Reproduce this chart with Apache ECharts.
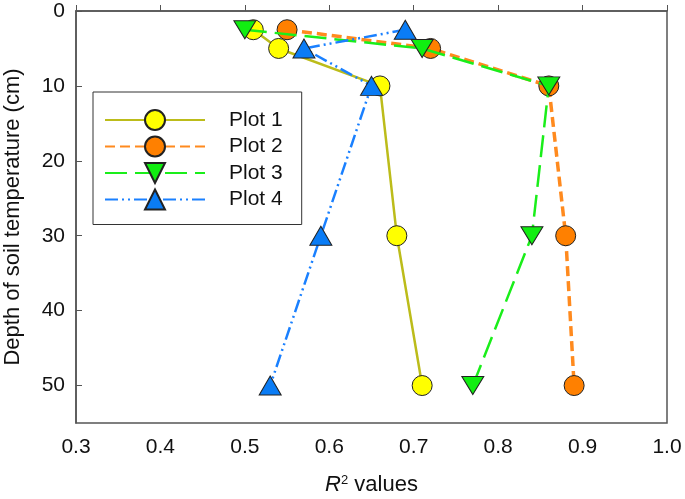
<!DOCTYPE html>
<html>
<head>
<meta charset="utf-8">
<script src="https://cdn.jsdelivr.net/npm/echarts@6/dist/echarts.min.js"></script>
<style>
html,body{margin:0;padding:0;background:#fff;}
#chart{width:685px;height:499px;}
</style>
</head>
<body>
<div id="chart"></div>
<script>
var depths = [2.5, 5, 10, 30, 50];
var plot1 = [0.51, 0.54, 0.66, 0.68, 0.71];
var plot2 = [0.55, 0.72, 0.86, 0.88, 0.89];
var plot3 = [0.50, 0.71, 0.86, 0.84, 0.77];
var plot4 = [0.69, 0.57, 0.65, 0.59, 0.53];
var seriesNames = ['Plot 1', 'Plot 2', 'Plot 3', 'Plot 4'];
var xTicks = [0.3, 0.4, 0.5, 0.6, 0.7, 0.8, 0.9, 1.0];
var yTicks = [0, 10, 20, 30, 40, 50];

function pairs(vals) {
  return vals.map(function (v, i) { return [v, depths[i]]; });
}

var FONT = '"Liberation Sans", Arial, sans-serif';
var chart = echarts.init(document.getElementById('chart'));
var axisColor = '#555';

chart.setOption({
  animation: false,
  backgroundColor: '#fff',
  textStyle: { fontFamily: FONT },
  grid: {
    left: 76, right: 18, top: 11, bottom: 76,
    containLabel: false, outerBoundsMode: 'none',
    show: true, borderColor: axisColor, borderWidth: 1.5, backgroundColor: 'transparent'
  },
  legend: {
    orient: 'vertical',
    left: 93, top: 92,
    padding: [17, 19, 14, 11],
    itemWidth: 100, itemHeight: 25, itemGap: 4.5,
    backgroundColor: '#fff',
    borderColor: '#333', borderWidth: 1, borderRadius: 0,
    textStyle: { fontFamily: FONT, fontSize: 21, color: '#111', padding: [0, 0, 0, 19] },
    data: seriesNames
  },
  xAxis: {
    type: 'value', min: 0.3, max: 1.0, interval: 0.1,
    name: '{i|R}{s|2} values',
    nameLocation: 'middle', nameGap: 51,
    nameTextStyle: {
      fontFamily: FONT, fontSize: 22, color: '#111',
      rich: {
        i: { fontStyle: 'italic', fontSize: 22, fontFamily: FONT, color: '#111' },
        s: { fontSize: 13, verticalAlign: 'top', fontFamily: FONT, color: '#111', padding: [0, 0, 9, 0] }
      }
    },
    axisLine: { show: true, lineStyle: { color: axisColor, width: 1.5 } },
    axisTick: { show: true, inside: true, length: 6, lineStyle: { color: axisColor, width: 1 } },
    splitLine: { show: false },
    axisLabel: {
      fontFamily: FONT, fontSize: 21, color: '#111', margin: 14,
      formatter: function (v) {
        for (var k = 0; k < xTicks.length; k++) {
          if (Math.abs(v - xTicks[k]) < 1e-6) return xTicks[k].toFixed(1);
        }
        return '';
      }
    }
  },
  yAxis: {
    type: 'value', min: 0, max: 55, interval: 10, inverse: true,
    name: 'Depth of soil temperature (cm)',
    nameLocation: 'middle', nameGap: 52, nameRotate: 90,
    nameTextStyle: { fontFamily: FONT, fontSize: 22, color: '#111' },
    axisLine: { show: true, lineStyle: { color: axisColor, width: 1.5 } },
    axisTick: { show: true, inside: true, length: 6, lineStyle: { color: axisColor, width: 1 } },
    splitLine: { show: false },
    axisLabel: {
      fontFamily: FONT, fontSize: 21, color: '#111', margin: 11,
      showMaxLabel: false,
      formatter: function (v) { return yTicks.indexOf(v) >= 0 ? String(v) : ''; }
    }
  },
  series: [
    {
      name: seriesNames[0], type: 'line', data: pairs(plot1),
      symbol: 'circle', symbolSize: 20, z: 5,
      lineStyle: { color: '#bcbc1a', width: 2.5, type: 'solid' },
      itemStyle: { color: '#ffff00', borderColor: '#222', borderWidth: 1 }
    },
    {
      name: seriesNames[1], type: 'line', data: pairs(plot2),
      symbol: 'circle', symbolSize: 20, z: 4,
      lineStyle: { color: '#ff8a1e', width: 3.5, type: [10, 5] },
      itemStyle: { color: '#ff8000', borderColor: '#222', borderWidth: 1 }
    },
    {
      name: seriesNames[2], type: 'line', data: pairs(plot3),
      symbol: 'triangle', symbolSize: [22, 18], symbolRotate: 180, z: 6,
      lineStyle: { color: '#1aee1a', width: 2.5, type: [22, 8] },
      itemStyle: { color: '#11ee11', borderColor: '#222', borderWidth: 1 }
    },
    {
      name: seriesNames[3], type: 'line', data: pairs(plot4),
      symbol: 'triangle', symbolSize: [22, 19], z: 7,
      lineStyle: { color: '#1a80ff', width: 2.5, type: [13, 4, 2, 4, 2, 4] },
      itemStyle: { color: '#0a7cf5', borderColor: '#222', borderWidth: 1 }
    }
  ]
});
</script>
</body>
</html>
